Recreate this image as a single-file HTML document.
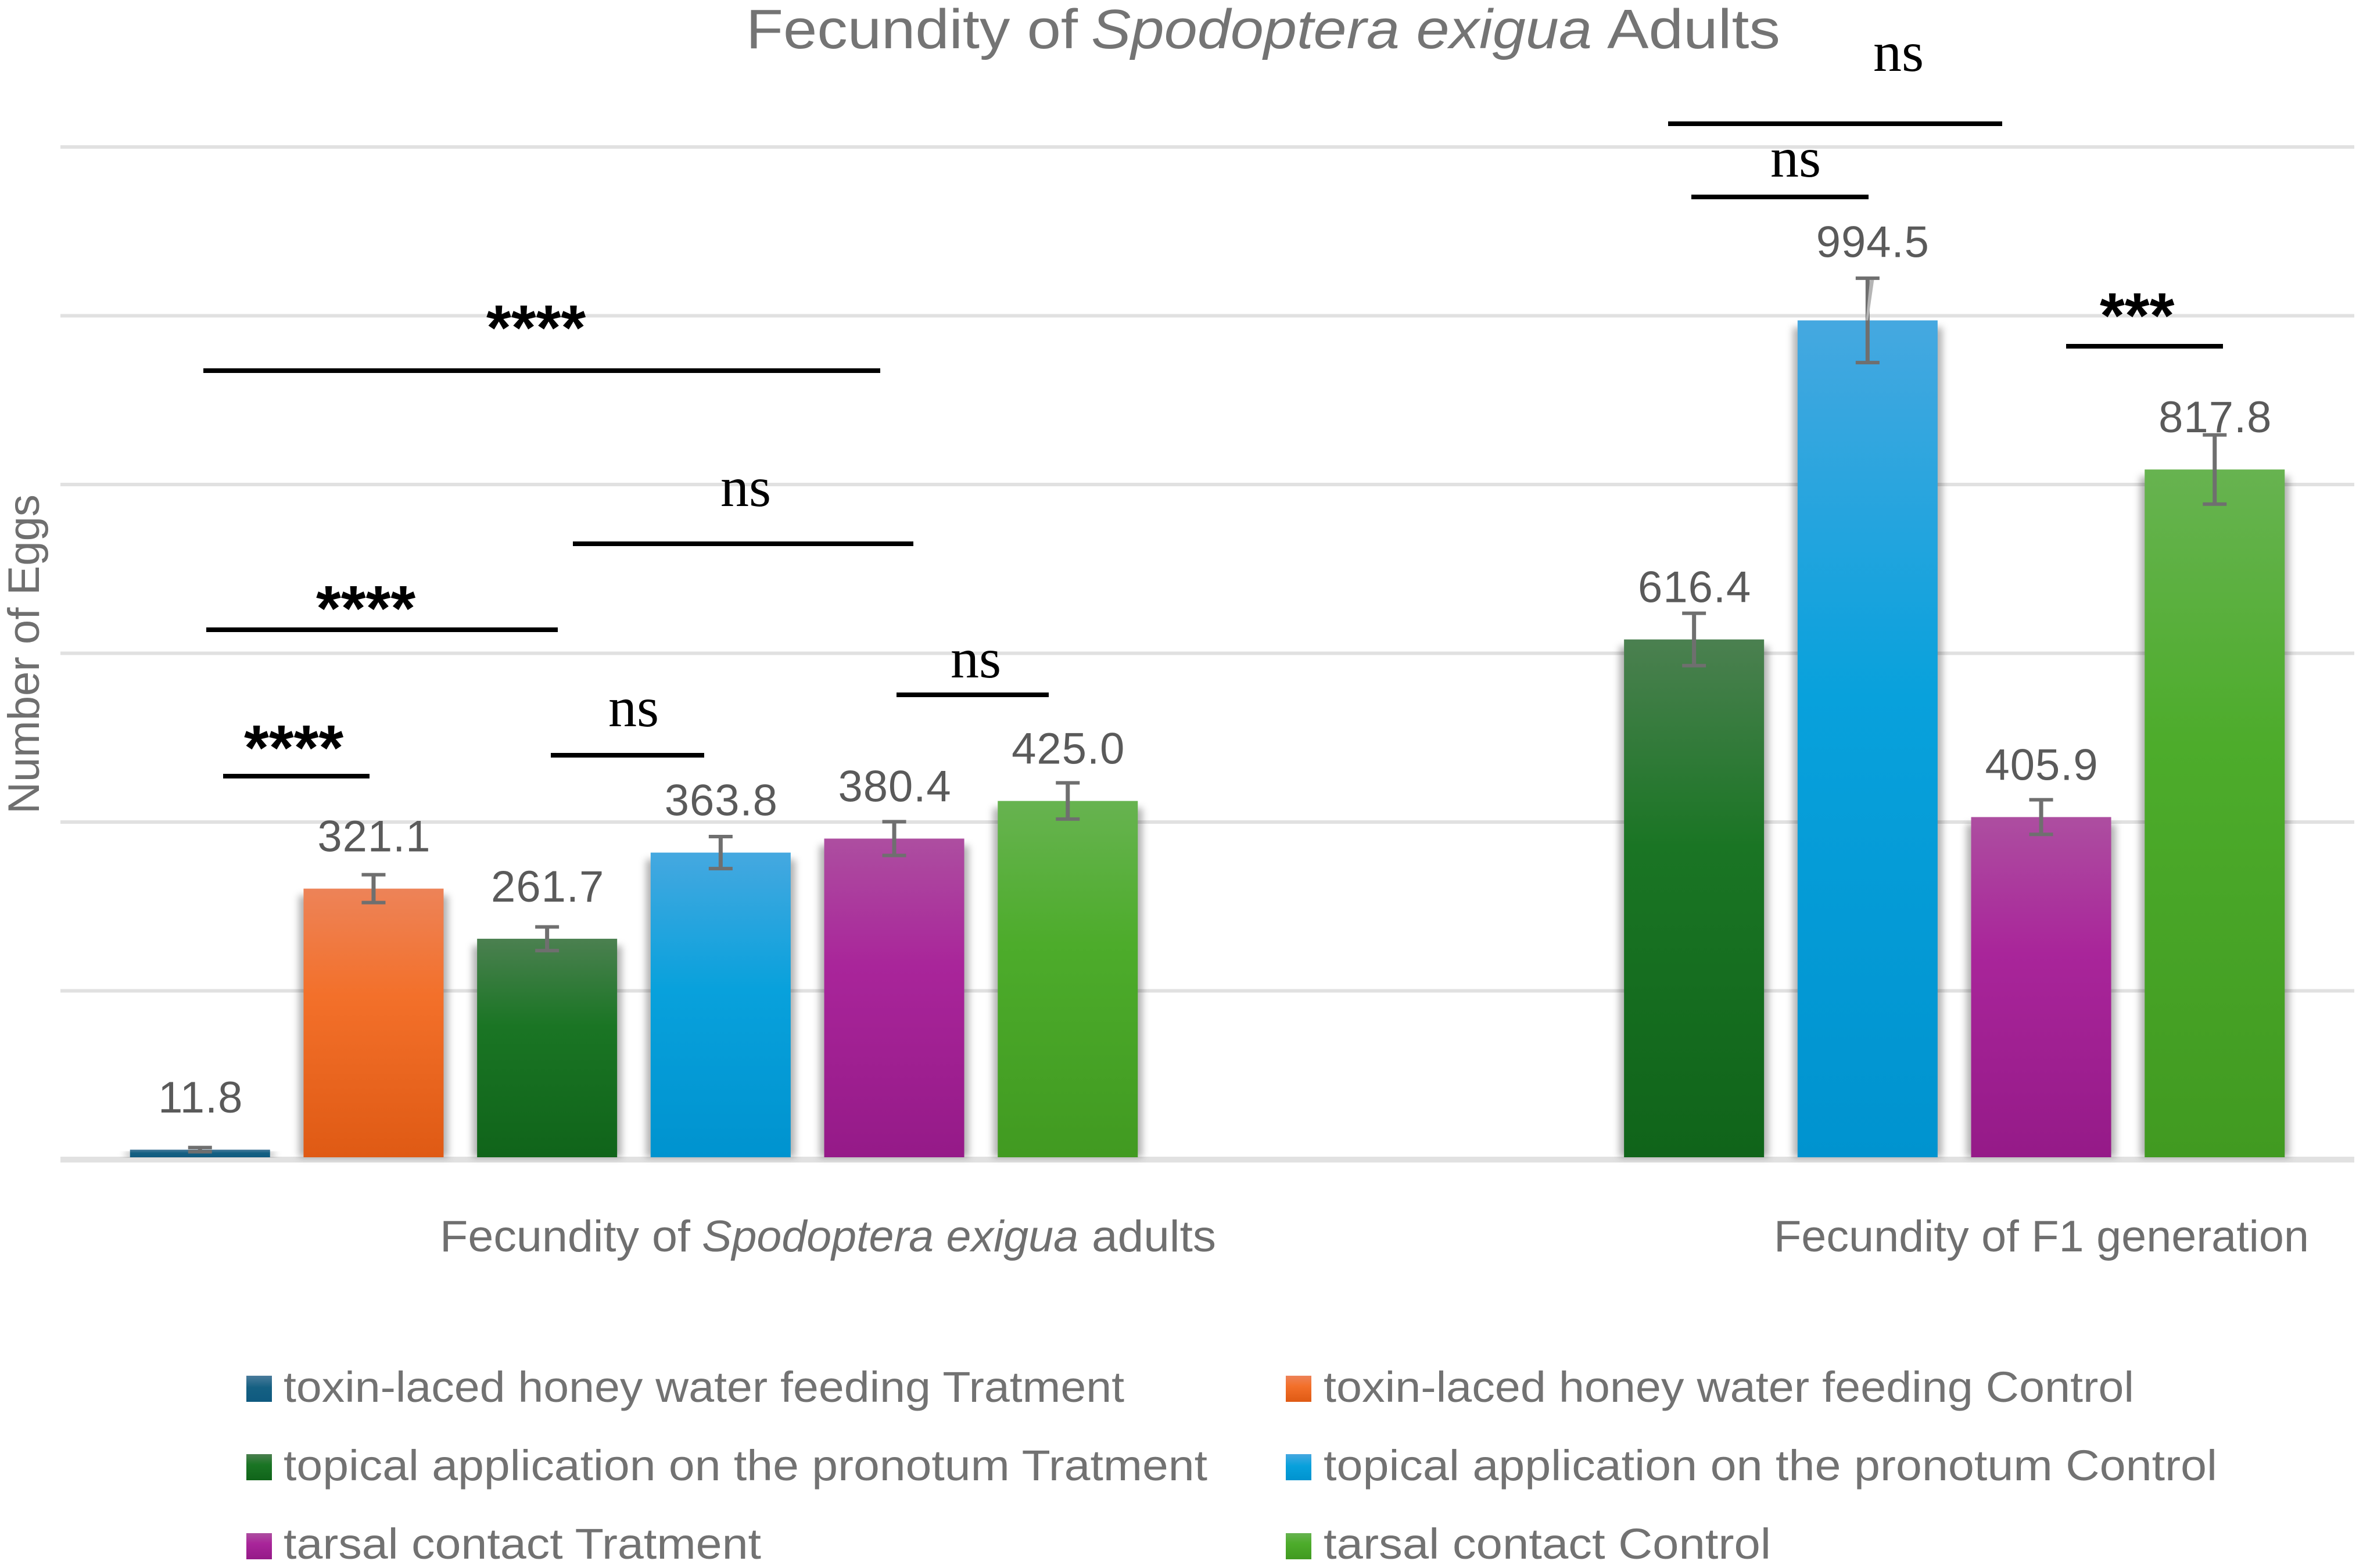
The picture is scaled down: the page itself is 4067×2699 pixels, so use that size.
<!DOCTYPE html>
<html lang="en">
<head>
<meta charset="utf-8">
<title>Fecundity of Spodoptera exigua Adults</title>
<style>
  html, body { margin: 0; padding: 0; background: #fff; }
  svg { display: block; }
  text { font-family: "Liberation Sans", sans-serif; }
  .title { font-size: 96px; fill: #747474; }
  .axis-text { font-size: 76px; fill: #6f6f6f; }
  .legend-text { font-size: 74px; fill: #727272; }
  .data-label { font-size: 76px; fill: #5a5a5a; text-anchor: middle; letter-spacing: 1px; }
  .sig { font-family: "Liberation Serif", serif; fill: #000; text-anchor: start; }
  .stars { font-family: "Liberation Sans", sans-serif; font-weight: bold; font-size: 110px; fill: #000; }
</style>
</head>
<body>
<svg id="chart" xmlns="http://www.w3.org/2000/svg" width="4067" height="2699" viewBox="0 0 4067 2699">
  <defs>
    <filter id="barShadow" x="-30%" y="-10%" width="160%" height="120%">
      <feGaussianBlur stdDeviation="6"/>
    </filter>
    <linearGradient id="grad0" x1="0" y1="0" x2="0" y2="1"><stop offset="0" stop-color="#4a7c9c"/><stop offset="0.45" stop-color="#156082"/><stop offset="1" stop-color="#0f5a80"/></linearGradient>
    <linearGradient id="grad1" x1="0" y1="0" x2="0" y2="1"><stop offset="0" stop-color="#ed8358"/><stop offset="0.4" stop-color="#f3702a"/><stop offset="1" stop-color="#df5a14"/></linearGradient>
    <linearGradient id="grad2" x1="0" y1="0" x2="0" y2="1"><stop offset="0" stop-color="#4b8050"/><stop offset="0.4" stop-color="#1a7524"/><stop offset="1" stop-color="#10641a"/></linearGradient>
    <linearGradient id="grad3" x1="0" y1="0" x2="0" y2="1"><stop offset="0" stop-color="#45a8e0"/><stop offset="0.45" stop-color="#08a1dc"/><stop offset="1" stop-color="#0093cf"/></linearGradient>
    <linearGradient id="grad4" x1="0" y1="0" x2="0" y2="1"><stop offset="0" stop-color="#ad4ea0"/><stop offset="0.4" stop-color="#a9259a"/><stop offset="1" stop-color="#951a88"/></linearGradient>
    <linearGradient id="grad5" x1="0" y1="0" x2="0" y2="1"><stop offset="0" stop-color="#67b350"/><stop offset="0.4" stop-color="#4dac2b"/><stop offset="1" stop-color="#419a21"/></linearGradient>
  </defs>

  <g>
    <text class="title" x="1284" y="83" textLength="571" lengthAdjust="spacingAndGlyphs">Fecundity of</text>
    <text class="title" font-style="italic" x="1878" y="83" textLength="862" lengthAdjust="spacingAndGlyphs">Spodoptera exigua</text>
    <text class="title" x="2766" y="83" textLength="298" lengthAdjust="spacingAndGlyphs">Adults</text>
  </g>

  <text class="axis-text" transform="translate(67 1401) rotate(-90)" textLength="550" lengthAdjust="spacingAndGlyphs">Number of Eggs</text>

  <g id="grid"></g>
  <g id="bars"></g>
  <g id="errors"></g>
  <g id="labels"></g>

  <g>
    <text class="axis-text" x="757" y="2154" textLength="431" lengthAdjust="spacingAndGlyphs">Fecundity of</text>
    <text class="axis-text" font-style="italic" x="1208" y="2154" textLength="648" lengthAdjust="spacingAndGlyphs">Spodoptera exigua</text>
    <text class="axis-text" x="1879" y="2154" textLength="214" lengthAdjust="spacingAndGlyphs">adults</text>
  </g>
  <text class="axis-text" x="3053" y="2154" textLength="921" lengthAdjust="spacingAndGlyphs">Fecundity of F1 generation</text>

  <!-- significance brackets -->
  <g>
    <rect x="384" y="1332" width="252" height="8" fill="#000"/>
    <text class="stars" x="420" y="1325">****</text>
    <rect x="355" y="1080" width="605" height="8" fill="#000"/>
    <text class="stars" x="544" y="1085">****</text>
    <rect x="350" y="634" width="1165" height="8" fill="#000"/>
    <text class="stars" x="837" y="602">****</text>
    <rect x="948" y="1296" width="264" height="8" fill="#000"/>
    <text class="sig" x="1047" y="1250" font-size="98">ns</text>
    <rect x="986" y="932" width="586" height="8" fill="#000"/>
    <text class="sig" x="1240" y="871" font-size="98">ns</text>
    <rect x="1543" y="1192" width="262" height="8" fill="#000"/>
    <text class="sig" x="1636" y="1166" font-size="98">ns</text>
    <rect x="2871" y="209" width="575" height="8" fill="#000"/>
    <text class="sig" x="3224" y="122" font-size="98">ns</text>
    <rect x="2911" y="335" width="305" height="8" fill="#000"/>
    <text class="sig" x="3047" y="304" font-size="98">ns</text>
    <rect x="3556" y="592" width="270" height="8" fill="#000"/>
    <text class="stars" x="3614" y="581">***</text>
  </g>

  <!-- legend -->
  <g>
    <rect x="424" y="2368" width="44" height="45" fill="url(#grad0)"/>
    <text class="legend-text" x="488" y="2413" textLength="1447" lengthAdjust="spacingAndGlyphs">toxin-laced honey water feeding Tratment</text>
    <rect x="2213" y="2368" width="44" height="45" fill="url(#grad1)"/>
    <text class="legend-text" x="2278" y="2413" textLength="1395" lengthAdjust="spacingAndGlyphs">toxin-laced honey water feeding Control</text>
    <rect x="424" y="2503" width="44" height="45" fill="url(#grad2)"/>
    <text class="legend-text" x="488" y="2548" textLength="1590" lengthAdjust="spacingAndGlyphs">topical application on the pronotum Tratment</text>
    <rect x="2213" y="2503" width="44" height="45" fill="url(#grad3)"/>
    <text class="legend-text" x="2278" y="2548" textLength="1538" lengthAdjust="spacingAndGlyphs">topical application on the pronotum Control</text>
    <rect x="424" y="2639" width="44" height="45" fill="url(#grad4)"/>
    <text class="legend-text" x="488" y="2683" textLength="822" lengthAdjust="spacingAndGlyphs">tarsal contact Tratment</text>
    <rect x="2213" y="2639" width="44" height="45" fill="url(#grad5)"/>
    <text class="legend-text" x="2278" y="2683" textLength="770" lengthAdjust="spacingAndGlyphs">tarsal contact Control</text>
  </g>
</svg>

<script>
// Chart data
const categories = ["adults", "f1"];
const seriesKeys = ["honey-treatment", "honey-control", "topical-treatment", "topical-control", "tarsal-treatment", "tarsal-control"];
const adultsValues = [11.8, 321.1, 261.7, 363.8, 380.4, 425.0];
const f1Values = [null, null, 616.4, 994.5, 405.9, 817.8];
const adultsErrors = [2.5, 16.5, 14, 19, 20, 21.5];
const f1Errors = [null, null, 31, 50, 20.5, 41];
const yTicks = [0, 200, 400, 600, 800, 1000, 1200];

const NS = "http://www.w3.org/2000/svg";
const plotLeft = 104, plotRight = 4052, axisY = 1996, pxPerUnit = 1.4525;
const barWidth = 241, barStep = 298.7, barFloorGap = 4;

function yScale(v) { return axisY - v * pxPerUnit; }
function bandCenter(c) {
  const band = (plotRight - plotLeft) / categories.length;
  return plotLeft + band * (c + 0.5);
}
function barCenter(c, s) {
  return bandCenter(c) + (s - (seriesKeys.length - 1) / 2) * barStep;
}
function make(tag, attrs, parent) {
  const el = document.createElementNS(NS, tag);
  for (const k in attrs) el.setAttribute(k, attrs[k]);
  parent.appendChild(el);
  return el;
}

const gridG = document.getElementById("grid");
const barsG = document.getElementById("bars");
const errG = document.getElementById("errors");
const labelG = document.getElementById("labels");

yTicks.forEach(function (t) {
  const line = make("line", { x1: plotLeft, x2: plotRight, y1: yScale(t), y2: yScale(t), stroke: "#e1e1e1", "stroke-width": t === 0 ? 10 : 6 }, gridG);
  
  
});

[adultsValues, f1Values].forEach(function (values, c) {
  const errors = c === 0 ? adultsErrors : f1Errors;
  values.forEach(function (v, s) {
    if (v === null) return;
    const cx = barCenter(c, s);
    const top = yScale(v);
    const h = Math.max(1, axisY - barFloorGap - top);

    // side-only soft shadow behind the bar
    const inset = Math.min(12, h * 0.3);
    const shadow = make("rect", { x: cx - barWidth / 2 - 8, y: top + inset, width: barWidth + 16, height: h - inset, fill: "#000", "fill-opacity": 0.3, filter: "url(#barShadow)" }, barsG);
    
    

    const bar = make("rect", { x: cx - barWidth / 2, y: top, width: barWidth, height: h, fill: "url(#grad" + s + ")" }, barsG);
    
    

    const e = errors[s];
    const eTop = yScale(v + e), eBot = yScale(v - e);
    const stem = make("line", { x1: cx, x2: cx, y1: eTop, y2: eBot, stroke: "#6f6f6f", "stroke-width": 7 }, errG);
    
    

    const tallest = c === 1 && s === 3;
    if (tallest) {
      // faint skewed streak on the upper half of this error bar
      const streak = make("polygon", { points: [cx - 3, top, cx + 1, top, cx + 11, eTop + 3, cx + 4, eTop + 3].join(" "), fill: "#b5b5b5" }, errG);
      
      
    }

    const capTop = make("line", { x1: cx - 20.5, x2: cx + 20.5, y1: eTop, y2: eTop, stroke: "#6f6f6f", "stroke-width": 6 }, errG);
    
    
    const capBot = make("line", { x1: cx - 20.5, x2: cx + 20.5, y1: eBot, y2: eBot, stroke: "#6f6f6f", "stroke-width": 6 }, errG);
    
    

    // the tallest bar's label sits clear of its long error bar
    const label = make("text", { class: "data-label", x: cx + (tallest ? 9 : 1), y: top - (tallest ? 109 : 64) }, labelG);
    label.textContent = v.toFixed(1);
    
    
  });
});
</script>
</body>
</html>
